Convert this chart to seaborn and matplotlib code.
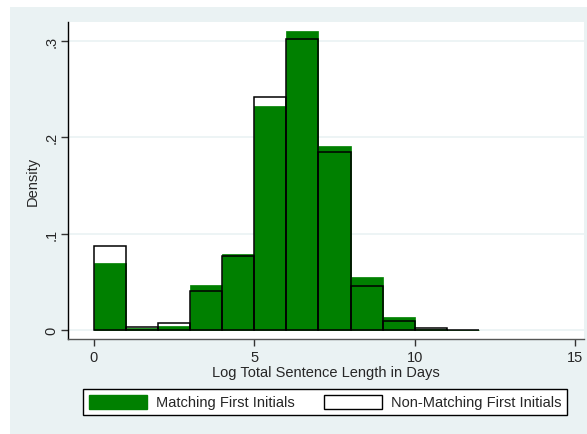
import numpy as np
import pandas as pd
import matplotlib
matplotlib.use("Agg")
from matplotlib import pyplot as plt
import seaborn as sns

# histogram densities, bins of width 1 from 0 to 12
edges = list(range(0, 13))
centers = [e + 0.5 for e in edges[:-1]]
matching = [0.070, 0.002, 0.004, 0.047, 0.079, 0.233, 0.310, 0.191, 0.055, 0.014, 0.001, 0.0]
nonmatching = [0.087, 0.003, 0.007, 0.041, 0.077, 0.242, 0.302, 0.185, 0.046, 0.009, 0.002, 0.0005]
yticks = [0, 0.1, 0.2, 0.3]
ytick_labels = ["0", ".1", ".2", ".3"]
xticks = [0, 5, 10, 15]

df = pd.DataFrame({"loglen": centers, "matching": matching, "nonmatching": nonmatching})

sns.set_style("white")
plt.rcParams['font.family'] = ['Liberation Sans', 'DejaVu Sans']

bg = "#eaf2f3"
green = "#008000"
fs = 10.5

fig = plt.figure(figsize=(5.87, 4.35), dpi=100, facecolor="white")
# stata-like graph region (white strip left and top)
fig.patches.append(plt.Rectangle((10/587, 0), 1, 1 - 8/435, transform=fig.transFigure,
                                 facecolor=bg, edgecolor="none", zorder=-10))

ax = fig.add_axes([68/587, 1-340/435, (584-68)/587, (340-23)/435])
ax.set_facecolor("white")

for y in yticks:
    ax.axhline(y, color=bg, lw=1.2, zorder=0)

sns.histplot(data=df, x="loglen", weights="matching", bins=edges, stat="count", color=green,
             alpha=1, edgecolor=green, linewidth=0.5, ax=ax)
sns.histplot(data=df, x="loglen", weights="nonmatching", bins=edges, stat="count", fill=False,
             color="black", linewidth=1.1, ax=ax)

ax.set_xlim(-0.8, 15.27)
ax.set_ylim(-0.0093, 0.3198)
ax.set_xticks(xticks)
ax.set_yticks(yticks)
ax.set_yticklabels(ytick_labels, rotation=90, va="center")
ax.tick_params(axis="both", direction="out", length=5, width=1, color="#333333",
               labelsize=fs, left=True, bottom=True)
ax.tick_params(axis="y", pad=2)
ax.tick_params(axis="x", pad=3)
ax.set_xlabel("Log Total Sentence Length in Days", fontsize=fs, labelpad=1)
ax.set_ylabel("Density", fontsize=fs)
ax.yaxis.set_label_coords((40 - 68) / 516, 0.5)

for s in ["top", "right"]:
    ax.spines[s].set_visible(False)
ax.spines["left"].set_color("black")
ax.spines["bottom"].set_color("#555555")
for s in ["left", "bottom"]:
    ax.spines[s].set_linewidth(1)

handles = [plt.Rectangle((0, 0), 1, 1, facecolor=green, edgecolor=green),
           plt.Rectangle((0, 0), 1, 1, facecolor="white", edgecolor="black", lw=1)]
leg = fig.legend(handles, ["Matching First Initials", "Non-Matching First Initials"],
                 loc="center", ncol=2, bbox_to_anchor=(325/587, 1-403/435),
                 fontsize=fs, handlelength=4.0, handleheight=1.1,
                 handletextpad=0.6, columnspacing=2.0, borderaxespad=0, fancybox=False,
                 framealpha=1, edgecolor="black", borderpad=0.4)
leg.get_frame().set_linewidth(1)

fig.savefig("out.png", dpi=100, facecolor="white")
